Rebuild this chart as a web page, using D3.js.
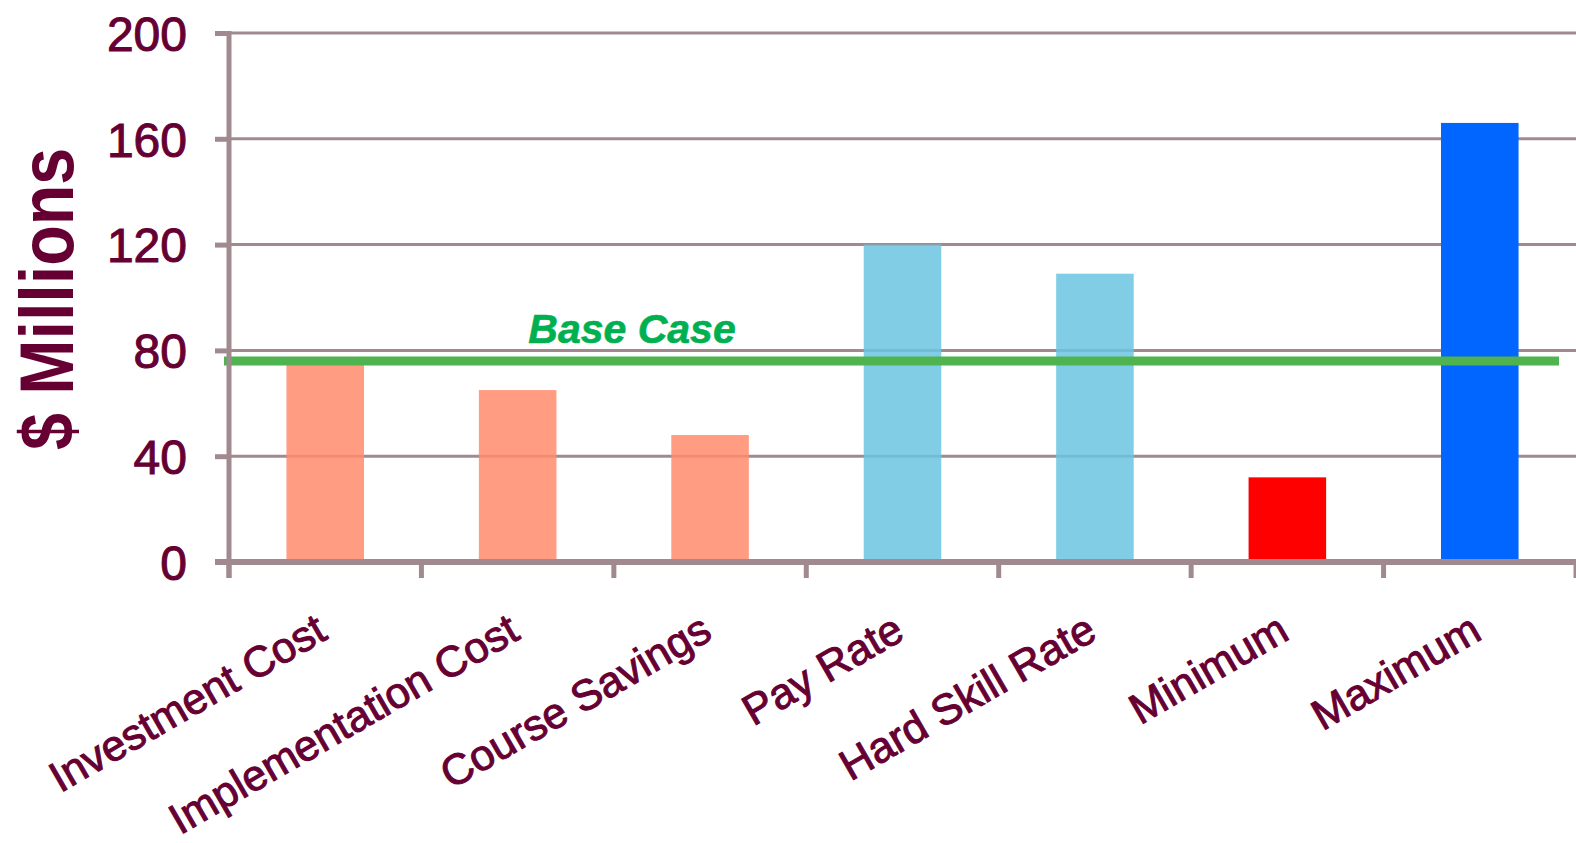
<!DOCTYPE html>
<html>
<head>
<meta charset="utf-8">
<script src="https://cdn.jsdelivr.net/npm/d3@7"></script>
<style>
  html, body { margin: 0; padding: 0; background: #ffffff; }
  svg { display: block; }
  text { font-family: Arial, "Liberation Sans", sans-serif; }
</style>
</head>
<body>
<svg id="chart" width="1576" height="843"></svg>
<script>
// ---- data ----
const categories = ["Investment Cost", "Implementation Cost", "Course Savings", "Pay Rate", "Hard Skill Rate", "Minimum", "Maximum"];
const values = [75, 65, 48, 120, 109, 32, 166];
const barColors = ["#ff8b6c", "#ff8b6c", "#ff8b6c", "#6ac4e1", "#6ac4e1", "#ff0000", "#0066ff"];
const barOpacity = [0.85, 0.85, 0.85, 0.85, 0.85, 1, 1];
const yTicks = [0, 40, 80, 120, 160, 200];
const baseCase = 76;
const baseCaseLabel = "Base Case";
const yTitle = "$ Millions";

// ---- layout ----
const svg = d3.select("#chart");
const plotLeft = 229, plotRight = 1576, plotTop = 33, plotBottom = 562;
const gridColor = "#a08a8f";
const textColor = "#660033";

const x = d3.scaleBand().domain(categories).range([plotLeft, plotRight]).padding(0);
const y = d3.scaleLinear().domain([0, 200]).range([plotBottom, plotTop]);
const barW = x.bandwidth() * 0.403;

// gridlines
svg.append("g").selectAll("line")
  .data(yTicks.filter(d => d > 0))
  .join("line")
  .attr("x1", plotLeft).attr("x2", 1576)
  .attr("y1", d => y(d)).attr("y2", d => y(d))
  .attr("stroke", gridColor).attr("stroke-width", 3);

// bars
svg.append("g").selectAll("rect")
  .data(categories)
  .join("rect")
  .attr("x", d => x(d) + (x.bandwidth() - barW) / 2)
  .attr("width", barW)
  .attr("y", (d, i) => y(values[i]))
  .attr("height", (d, i) => y(0) - y(values[i]))
  .attr("fill", (d, i) => barColors[i])
  .attr("fill-opacity", (d, i) => barOpacity[i]);

// base case line
svg.append("line")
  .attr("x1", 224).attr("x2", 1559)
  .attr("y1", y(baseCase)).attr("y2", y(baseCase))
  .attr("stroke", "#4fb34f").attr("stroke-width", 9);

svg.append("text")
  .attr("x", 632).attr("y", y(baseCase) - 18)
  .attr("text-anchor", "middle")
  .attr("font-size", 41).attr("font-weight", "bold").attr("font-style", "italic")
  .attr("fill", "#00b050")
  .attr("stroke", "#00b050").attr("stroke-width", 0.6)
  .text(baseCaseLabel);

// y axis
const yAxis = d3.axisLeft(y).tickValues(yTicks).tickSize(14).tickPadding(28).tickFormat(d3.format("d"));
const gy = svg.append("g").attr("transform", `translate(${plotLeft},0)`).call(yAxis);
gy.select(".domain").remove();
gy.selectAll(".tick line").attr("stroke", gridColor).attr("stroke-width", 5);
gy.selectAll(".tick text")
  .attr("fill", textColor).attr("font-size", 48)
  .attr("stroke", textColor).attr("stroke-width", 1)
  .attr("font-family", "Arial, 'Liberation Sans', sans-serif")
  .attr("dy", "0.36em");

svg.append("line")
  .attr("x1", plotLeft).attr("x2", plotLeft)
  .attr("y1", plotTop - 2).attr("y2", plotBottom + 16)
  .attr("stroke", gridColor).attr("stroke-width", 5);

// x axis baseline
svg.append("line")
  .attr("x1", plotLeft - 14).attr("x2", 1576)
  .attr("y1", plotBottom).attr("y2", plotBottom)
  .attr("stroke", gridColor).attr("stroke-width", 6);

// x tick marks at band boundaries
const boundaries = categories.map(c => x(c)).concat([x(categories[categories.length - 1]) + x.bandwidth()]);
svg.append("g").selectAll("line")
  .data(boundaries)
  .join("line")
  .attr("x1", d => d).attr("x2", d => d)
  .attr("y1", plotBottom).attr("y2", plotBottom + 16)
  .attr("stroke", gridColor).attr("stroke-width", 5);

// x labels
const xAxis = d3.axisBottom(x).tickSize(0);
const gx = svg.append("g").attr("transform", `translate(0,${plotBottom})`).call(xAxis);
gx.select(".domain").remove();
gx.selectAll(".tick text")
  .attr("x", 0).attr("y", 0).attr("dy", 0)
  .attr("transform", "translate(4,76) rotate(-30)")
  .attr("text-anchor", "end")
  .attr("fill", textColor).attr("font-size", 43)
  .attr("stroke", textColor).attr("stroke-width", 1)
  .attr("font-family", "Arial, 'Liberation Sans', sans-serif");

// y title
svg.append("text")
  .attr("transform", `translate(73,299) rotate(-90)`)
  .attr("text-anchor", "middle")
  .attr("font-size", 76).attr("font-weight", "bold")
  .attr("fill", textColor)
  .attr("textLength", 302).attr("lengthAdjust", "spacingAndGlyphs")
  .text(yTitle);
</script>
</body>
</html>
